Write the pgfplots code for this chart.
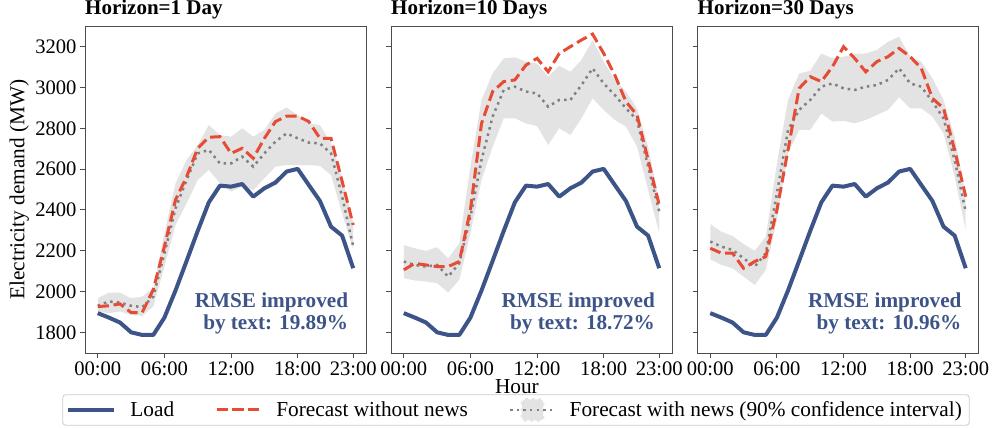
\documentclass[border=0pt]{standalone}
\usepackage{fontspec}
\setmainfont{Liberation Serif}
\usepackage{pgfplots}
\pgfplotsset{compat=1.18}
\usepackage{pgfplotstable}
\usepgfplotslibrary{fillbetween}
\definecolor{loadblue}{HTML}{3C5488}
\definecolor{fcred}{HTML}{E64B35}
\definecolor{bandgray}{HTML}{E3E3E3}
\definecolor{meangray}{HTML}{808080}

\pgfplotstableread{
h load
0 1894
1 1872
2 1848
3 1800
4 1787
5 1787
6 1872
7 2005
8 2150
9 2297
10 2437
11 2519
12 2514
13 2527
14 2465
15 2506
16 2534
17 2588
18 2601
19 2522
20 2444
21 2318
22 2274
23 2114
}\loadtab

\pgfplotstableread{
h red mean up lo
0 1926 1930 1967 1902
1 1930 1951 1995 1894
2 1939 1946 1995 1902
3 1897 1930 1967 1885
4 1897 1923 1975 1880
5 2010 1975 2016 1926
6 2220 2187 2286 2122
7 2449 2408 2530 2326
8 2563 2547 2645 2432
9 2702 2677 2718 2547
10 2756 2694 2816 2596
11 2759 2628 2767 2530
12 2677 2628 2759 2490
13 2702 2661 2800 2514
14 2653 2612 2759 2498
15 2751 2677 2792 2555
16 2833 2735 2873 2612
17 2860 2775 2902 2620
18 2860 2751 2865 2620
19 2833 2730 2824 2620
20 2751 2726 2816 2616
21 2751 2677 2726 2571
22 2540 2465 2563 2383
23 2326 2220 2334 2204
}\tabA

\pgfplotstableread{
h red mean up lo
0 2106 2147 2228 2065
1 2138 2130 2212 2054
2 2130 2122 2199 2049
3 2122 2130 2217 2041
4 2122 2073 2163 1995
5 2147 2139 2236 2057
6 2400 2367 2612 2286
7 2824 2645 2939 2547
8 2980 2857 3069 2710
9 3029 2988 3143 2849
10 3037 3004 3148 2849
11 3110 2980 3127 2824
12 3143 2971 3118 2811
13 3077 2906 3053 2718
14 3167 2939 3107 2800
15 3200 2939 3077 2767
16 3233 3012 3135 2849
17 3262 3094 3233 2947
18 3167 3020 3127 2890
19 3061 2963 3037 2841
20 2931 2898 2980 2808
21 2865 2841 2898 2710
22 2645 2612 2710 2498
23 2424 2392 2441 2286
}\tabB

\pgfplotstableread{
h red mean up lo
0 2212 2245 2331 2158
1 2188 2220 2293 2130
2 2188 2204 2272 2114
3 2114 2163 2233 2073
4 2147 2122 2200 2032
5 2171 2188 2269 2106
6 2400 2481 2628 2351
7 2694 2792 2939 2677
8 2996 2890 3069 2792
9 3053 2939 3082 2792
10 3029 3004 3167 2873
11 3102 3020 3143 2833
12 3200 2996 3151 2837
13 3143 2988 3164 2824
14 3077 3004 3167 2841
15 3127 3012 3184 2865
16 3151 3037 3224 2890
17 3192 3094 3249 2952
18 3151 3020 3151 2898
19 3094 3004 3127 2898
20 2947 2931 3045 2857
21 2898 2849 2939 2775
22 2694 2645 2759 2563
23 2465 2392 2473 2302
}\tabC

\newcommand{\tickfont}{\fontsize{20.6bp}{24bp}\selectfont}
\newcommand{\bigfont}{\fontsize{21.3bp}{25bp}\selectfont}
\tikzset{
  loadstyle/.style={loadblue, line width=4bp, line join=round},
  redstyle/.style={fcred, line width=3bp, dash pattern=on 11.1bp off 4.8bp},
  meanstyle/.style={meangray, line width=2.5bp, dash pattern=on 2.5bp off 4.1bp},
  rmse/.style={anchor=north east, align=right, inner sep=0pt, text=loadblue, font=\bfseries\fontsize{21.2bp}{21.5bp}\selectfont},
}
\pgfplotsset{
  lineleg/.style={legend image code/.code={\draw[##1, line cap=rect] (0bp,0bp) -- (42bp,0bp);}},
  redleg/.style={legend image code/.code={\draw[##1] (0bp,0bp) -- (42bp,0bp);}},
  bandleg/.style={legend image code/.code={\fill[bandgray] (12bp,-10.5bp) rectangle (33bp,10.5bp); \draw[##1] (0bp,0bp) -- (42bp,0bp);}},
  panel/.style={
    scale only axis, width=281bp, height=327bp,
    xmin=-1.15, xmax=24.15, ymin=1698.5, ymax=3301.5,
    xtick={0,6,12,18,23}, xticklabels={00:00,06:00,12:00,18:00,23:00},
    ytick={1800,2000,...,3200},
    xtick pos=bottom, ytick pos=left,
    tick align=outside, major tick length=5bp,
    axis line style={black!70, line width=0.9bp},
    every tick/.style={black!70, line width=0.9bp},
    ticklabel style={font=\tickfont},
    /pgf/number format/assume math mode=true,
    /pgf/number format/set thousands separator={},
    title style={at={(0,1)}, anchor=base west, yshift=5.3bp, inner sep=0pt, font=\bfseries\fontsize{21bp}{24bp}\selectfont},
  },
}

\newcommand{\panelplots}[1]{%
  \addplot[name path=up, draw=none, forget plot] table[x=h, y=up] {#1};
  \addplot[name path=lo, draw=none, forget plot] table[x=h, y=lo] {#1};
  \addplot[bandgray, forget plot] fill between[of=up and lo];
  \addplot[meanstyle, forget plot] table[x=h, y=mean] {#1};
  \addplot[redstyle, forget plot] table[x=h, y=red] {#1};
  \addplot[loadstyle, forget plot] table[x=h, y=load] {\loadtab};
}

\begin{document}
\begin{tikzpicture}
\begin{axis}[panel, at={(85bp,75bp)}, anchor=south west,
  title={Horizon=1 Day},
  ylabel={Electricity demand (MW)},
  ylabel style={at={(-0.234,0.5)}, anchor=center, font=\bigfont},
  legend columns=3,
  legend style={at={(-0.0808,-0.1263)}, anchor=north west, draw=black!20, line width=0.8bp,
    rounded corners=3bp, fill=white, inner xsep=5.4bp, inner ysep=3.5bp, font=\bigfont,
    /tikz/every odd column/.append style={column sep=14.3bp},
    /tikz/every even column/.append style={column sep=38.9bp}},
]
\panelplots{\tabA}
\addlegendimage{loadstyle, lineleg}
\addlegendentry{Load}
\addlegendimage{redstyle, redleg}
\addlegendentry{Forecast without news}
\addlegendimage{meanstyle, bandleg}
\addlegendentry{Forecast with news (90\% confidence interval)}
\node[rmse] at (rel axis cs:0.937,0.1835) {RMSE improved\\by text: 19.89\%};
\end{axis}

\begin{axis}[panel, at={(391bp,75bp)}, anchor=south west,
  title={Horizon=10 Days}, yticklabels={},
  xlabel={Hour},
  xlabel style={at={(0.448,-0.1235)}, anchor=base, inner sep=0pt, font=\bigfont},
]
\panelplots{\tabB}
\node[rmse] at (rel axis cs:0.94,0.1835) {RMSE improved\\by text: 18.72\%};
\end{axis}

\begin{axis}[panel, at={(697.5bp,75bp)}, anchor=south west,
  title={Horizon=30 Days}, yticklabels={},
]
\panelplots{\tabC}
\node[rmse] at (rel axis cs:0.94,0.1835) {RMSE improved\\by text: 10.96\%};
\end{axis}
\pgfresetboundingbox
\path[use as bounding box] (0,0) rectangle (992bp,428bp);
\end{tikzpicture}
\end{document}
